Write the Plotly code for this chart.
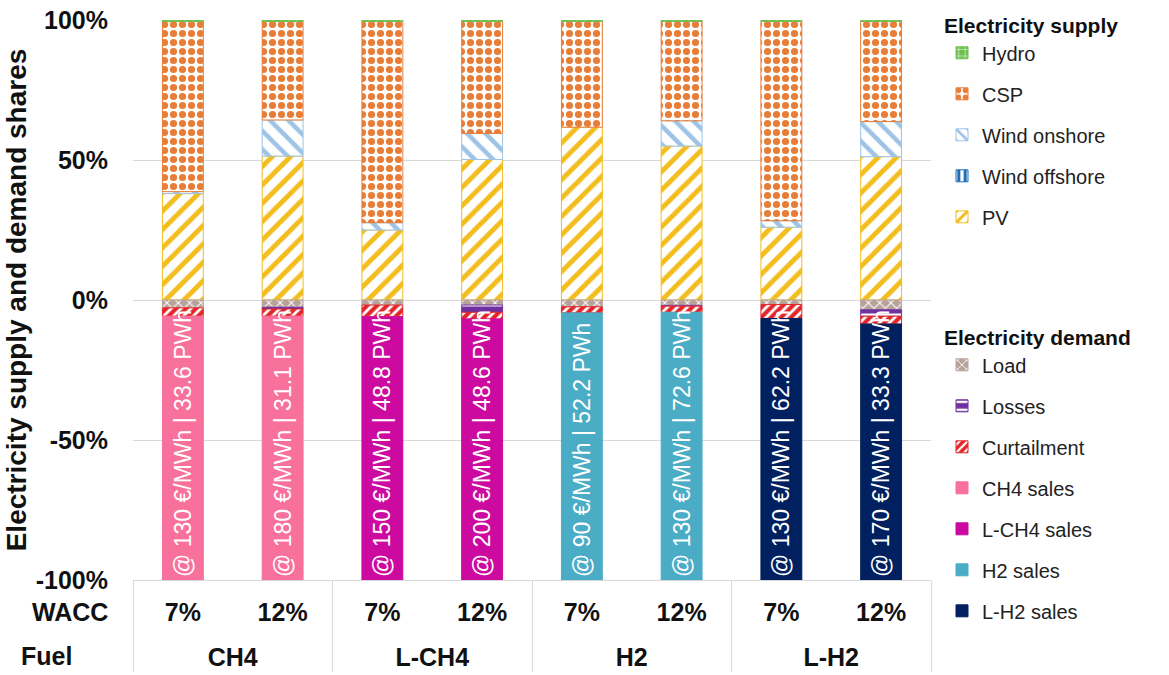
import plotly.graph_objects as go

# ---------------- data ----------------
fuels = ["CH4", "CH4", "L-CH4", "L-CH4", "H2", "H2", "L-H2", "L-H2"]
wacc = ["7%", "12%", "7%", "12%", "7%", "12%", "7%", "12%"]

# supply shares (%)
pv = [38.0, 51.4, 25.0, 50.2, 61.7, 55.0, 26.0, 51.2]
wind_offshore = [None, None, None, None, None, None, None, None]
wind_onshore = [0.7, 12.9, 2.6, 9.3, None, 9.0, 2.3, 12.5]
csp = [60.8, 35.2, 71.9, 40.0, 37.8, 35.5, 71.2, 35.8]
hydro = [0.5, 0.5, 0.5, 0.5, 0.5, 0.5, 0.5, 0.5]

# demand shares (%)
load = [-2.8, -2.6, -1.8, -1.8, -2.4, -1.9, -1.6, -3.5]
losses = [None, -0.6, None, -2.6, None, -0.3, None, -2.3]
curtailment = [-3.0, -2.6, -4.2, -2.4, -2.2, -2.2, -5.0, -2.8]
ch4_sales = [-94.2, -94.2, None, None, None, None, None, None]
lch4_sales = [None, None, -94.0, -93.2, None, None, None, None]
h2_sales = [None, None, None, None, -95.4, -95.6, None, None]
lh2_sales = [None, None, None, None, None, None, -93.4, -91.4]

sales_labels = [
    "@ 130 €/MWh | 33.6 PWh", "@ 180 €/MWh | 31.1 PWh",
    "@ 150 €/MWh | 48.8 PWh", "@ 200 €/MWh | 48.6 PWh",
    "@ 90 €/MWh | 52.2 PWh", "@ 130 €/MWh | 72.6 PWh",
    "@ 130 €/MWh | 62.2 PWh", "@ 170 €/MWh | 33.3 PWh",
]

y_tickvals = [-100, -50, 0, 50, 100]
y_ticktext = ["-100%", "-50%", "0%", "50%", "100%"]

FONT = "Liberation Sans, Arial, sans-serif"
LBL = "<span style='font-size:25px'>{}</span>"
# inner labels get an empty second line so the outer row sits lower
x = [[LBL.format(f) for f in fuels], [LBL.format(w) + "<br>\u00a0" for w in wacc]]

fig = go.Figure()


def add_bar(name, vals, legend, rank, bg, fg=None, shape="", size=8, solidity=0.4,
            line_color=None, text=None):
    marker = dict(color=bg, line=dict(color=line_color or bg, width=1))
    if shape:
        marker["pattern"] = dict(shape=shape, fgcolor=fg, bgcolor=bg, size=size,
                                 solidity=solidity, fillmode="replace")
    kw = {}
    if text is not None:
        kw = dict(text=text, textposition="inside", textangle=-90,
                  insidetextanchor="end", constraintext="none",
                  textfont=dict(family=FONT, size=23, color="white"))
    fig.add_trace(go.Bar(x=x, y=vals, name=name, marker=marker, legend=legend,
                         legendgroup=name, legendrank=rank, hoverinfo="name+y", **kw))


# supply (stack bottom to top)
add_bar("PV", pv, "legend", 5, "white", "#f2bd1d", "/", 13, 0.38, "#f2bd1d")
add_bar("Wind offshore", wind_offshore, "legend", 4, "white", "#1f6db5", "|", 8, 0.5, "#1f6db5")
add_bar("Wind onshore", wind_onshore, "legend", 3, "white", "#9dc3e6", "\\", 13, 0.35, "#9dc3e6")
add_bar("CSP", csp, "legend", 2, "white", "#e87d37", ".", 9, 0.5, "#e87d37")
add_bar("Hydro", hydro, "legend", 1, "#70c050", "white", "+", 8, 0.15, "#70c050")

# demand (stack from zero downward)
add_bar("Load", load, "legend2", 1, "#b8a39b", "white", "x", 8, 0.25, "#b8a39b")
add_bar("Losses", losses, "legend2", 2, "#7030a0", "white", "-", 10, 0.3, "#7030a0")
add_bar("Curtailment", curtailment, "legend2", 3, "#e3262a", "white", "/", 7, 0.4, "#e3262a")
add_bar("CH4 sales", ch4_sales, "legend2", 4, "#f8709c",
        text=[t if v is not None else "" for t, v in zip(sales_labels, ch4_sales)])
add_bar("L-CH4 sales", lch4_sales, "legend2", 5, "#cc0aa0",
        text=[t if v is not None else "" for t, v in zip(sales_labels, lch4_sales)])
add_bar("H2 sales", h2_sales, "legend2", 6, "#4bacc6",
        text=[t if v is not None else "" for t, v in zip(sales_labels, h2_sales)])
add_bar("L-H2 sales", lh2_sales, "legend2", 7, "#002060",
        text=[t if v is not None else "" for t, v in zip(sales_labels, lh2_sales)])

L, R, T, B = 133, 238, 20, 95
W, H = 1169, 675
plot_w = W - L - R
plot_h = H - T - B


def px_x(p):
    return (p - L) / plot_w


def px_y(p):
    return (H - B - p) / plot_h


fig.update_layout(
    width=W, height=H,
    margin=dict(l=L, r=R, t=T, b=B, pad=0, autoexpand=False),
    barmode="relative",
    bargap=0.59,
    plot_bgcolor="white", paper_bgcolor="white",
    font=dict(family=FONT, color="#1a1a1a"),
    showlegend=True,
    legend=dict(
        title=dict(text="Electricity supply", font=dict(size=21, weight="bold", color="#111")),
        x=px_x(942), y=px_y(6), xanchor="left", yanchor="top",
        traceorder="grouped", tracegroupgap=12,
        font=dict(size=20, color="#222"), bgcolor="rgba(0,0,0,0)",
        itemclick=False, itemdoubleclick=False,
    ),
    legend2=dict(
        title=dict(text="Electricity demand", font=dict(size=21, weight="bold", color="#111")),
        x=px_x(942), y=px_y(318), xanchor="left", yanchor="top",
        traceorder="grouped", tracegroupgap=12,
        font=dict(size=20, color="#222"), bgcolor="rgba(0,0,0,0)",
        itemclick=False, itemdoubleclick=False,
    ),
    xaxis=dict(
        type="multicategory", automargin=False,
        showgrid=False, showline=True, linecolor="#d9d9d9", linewidth=1,
        showdividers=True, dividercolor="#d9d9d9", dividerwidth=1,
        tickfont=dict(size=22, weight="bold", color="#111"),
        ticks="", ticklabelstandoff=14,
    ),
    yaxis=dict(
        range=[-100, 100], automargin=False,
        tickvals=y_tickvals, ticktext=y_ticktext,
        showgrid=True, gridcolor="#d9d9d9", gridwidth=1,
        zeroline=True, zerolinecolor="#d9d9d9", zerolinewidth=1,
        tickfont=dict(size=25, weight="bold", color="#111"),
        ticks="", ticklabelstandoff=24,
        title=dict(text="Electricity supply and demand shares",
                   font=dict(size=28, weight="bold", color="#111"), standoff=0),
    ),
    annotations=[
        dict(text="WACC", x=px_x(70), y=px_y(612), xref="paper", yref="paper",
             showarrow=False, font=dict(size=25, weight="bold", color="#111"),
             xanchor="center", yanchor="middle"),
        dict(text="Fuel", x=px_x(46), y=px_y(656), xref="paper", yref="paper",
             showarrow=False, font=dict(size=25, weight="bold", color="#111"),
             xanchor="center", yanchor="middle"),
    ],
)

fig.write_html("out.html")
